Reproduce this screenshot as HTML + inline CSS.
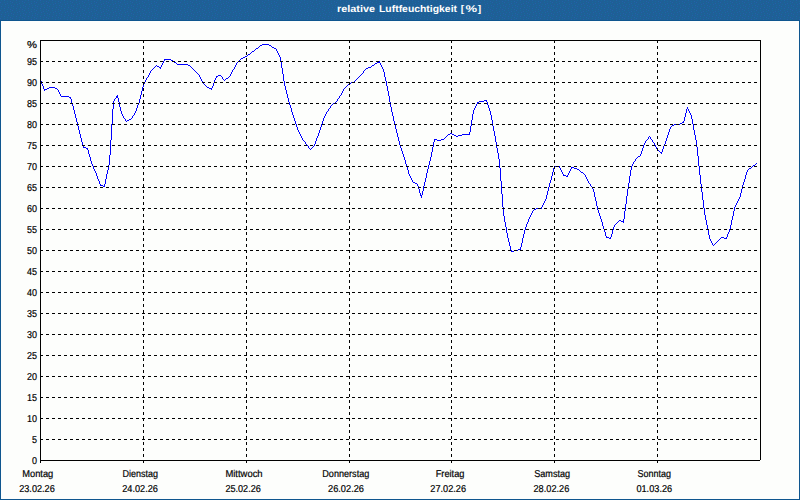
<!DOCTYPE html>
<html><head><meta charset="utf-8"><title>relative Luftfeuchtigkeit [%]</title>
<style>
html,body{margin:0;padding:0;background:#fdfefc;overflow:hidden;font-family:"Liberation Sans",sans-serif;}
svg{position:absolute;left:0;top:0}
</style></head><body>
<svg width="800" height="500" viewBox="0 0 800 500" style="display:block">
<defs><pattern id="dz" width="12" height="8" patternUnits="userSpaceOnUse"><rect width="12" height="8" fill="#1f5f96"/><rect x="1" y="0" width="1" height="1" fill="#166a9c"/><rect x="7" y="1" width="1" height="1" fill="#166a9c"/><rect x="4" y="2" width="1" height="1" fill="#166a9c"/><rect x="10" y="3" width="1" height="1" fill="#166a9c"/><rect x="2" y="4" width="1" height="1" fill="#166a9c"/><rect x="8" y="5" width="1" height="1" fill="#166a9c"/><rect x="5" y="6" width="1" height="1" fill="#166a9c"/><rect x="11" y="7" width="1" height="1" fill="#166a9c"/><rect x="4" y="0" width="1" height="1" fill="#2163aa"/><rect x="10" y="1" width="1" height="1" fill="#2163aa"/><rect x="0" y="2" width="1" height="1" fill="#2163aa"/><rect x="7" y="3" width="1" height="1" fill="#2163aa"/><rect x="5" y="4" width="1" height="1" fill="#2163aa"/><rect x="11" y="5" width="1" height="1" fill="#2163aa"/><rect x="1" y="6" width="1" height="1" fill="#2163aa"/><rect x="8" y="7" width="1" height="1" fill="#2163aa"/></pattern></defs>
<rect x="0" y="0" width="800" height="500" fill="#0f568f"/>
<rect x="1" y="21" width="798" height="478" fill="#fdfefc"/>
<rect x="0" y="0" width="800" height="20" fill="url(#dz)"/>
<path d="M40 79h1v2h-1zM41 81h1v3h-1zM42 84h1v2h-1zM43 86h1v3h-1zM44 89h1v2h-1zM45 89h1v1h-1zM46 89h1v1h-1zM47 88h1v1h-1zM48 88h1v1h-1zM49 87h1v1h-1zM50 87h1v1h-1zM51 87h1v1h-1zM52 87h1v1h-1zM53 87h1v1h-1zM54 87h1v1h-1zM55 88h1v1h-1zM56 88h1v1h-1zM57 89h1v1h-1zM58 90h1v2h-1zM59 92h1v2h-1zM60 94h1v2h-1zM61 96h1v1h-1zM62 96h1v1h-1zM63 96h1v1h-1zM64 96h1v1h-1zM65 96h1v1h-1zM66 96h1v1h-1zM67 96h1v1h-1zM68 96h1v1h-1zM69 97h1v1h-1zM70 97h1v2h-1zM71 99h1v4h-1zM72 103h1v3h-1zM73 106h1v4h-1zM74 110h1v4h-1zM75 114h1v4h-1zM76 118h1v4h-1zM77 122h1v4h-1zM78 126h1v4h-1zM79 130h1v4h-1zM80 134h1v4h-1zM81 138h1v4h-1zM82 142h1v4h-1zM83 146h1v2h-1zM84 147h1v1h-1zM85 147h1v1h-1zM86 148h1v1h-1zM87 148h1v2h-1zM88 150h1v4h-1zM89 154h1v3h-1zM90 157h1v4h-1zM91 161h1v3h-1zM92 164h1v2h-1zM93 166h1v3h-1zM94 169h1v2h-1zM95 171h1v2h-1zM96 173h1v3h-1zM97 176h1v3h-1zM98 179h1v2h-1zM99 181h1v3h-1zM100 184h1v2h-1zM101 185h1v1h-1zM102 185h1v1h-1zM103 186h1v1h-1zM104 184h1v3h-1zM105 179h1v5h-1zM106 174h1v5h-1zM107 170h1v4h-1zM108 165h1v5h-1zM109 155h1v10h-1zM110 140h1v15h-1zM111 124h1v16h-1zM112 109h1v15h-1zM113 101h1v8h-1zM114 99h1v2h-1zM115 98h1v1h-1zM116 96h1v2h-1zM117 95h1v3h-1zM118 98h1v4h-1zM119 102h1v5h-1zM120 107h1v4h-1zM121 111h1v3h-1zM122 114h1v2h-1zM123 116h1v2h-1zM124 118h1v1h-1zM125 119h1v2h-1zM126 121h1v1h-1zM127 120h1v1h-1zM128 120h1v1h-1zM129 119h1v1h-1zM130 119h1v1h-1zM131 118h1v1h-1zM132 116h1v2h-1zM133 115h1v1h-1zM134 113h1v2h-1zM135 111h1v2h-1zM136 108h1v3h-1zM137 105h1v3h-1zM138 103h1v2h-1zM139 99h1v4h-1zM140 95h1v4h-1zM141 91h1v4h-1zM142 87h1v4h-1zM143 84h1v3h-1zM144 82h1v2h-1zM145 80h1v2h-1zM146 78h1v2h-1zM147 77h1v1h-1zM148 75h1v2h-1zM149 73h1v2h-1zM150 71h1v2h-1zM151 70h1v1h-1zM152 69h1v1h-1zM153 68h1v1h-1zM154 67h1v1h-1zM155 66h1v1h-1zM156 65h1v1h-1zM157 66h1v1h-1zM158 66h1v1h-1zM159 67h1v1h-1zM160 67h1v2h-1zM161 65h1v2h-1zM162 63h1v2h-1zM163 61h1v2h-1zM164 59h1v2h-1zM165 59h1v1h-1zM166 59h1v1h-1zM167 59h1v1h-1zM168 59h1v1h-1zM169 59h1v1h-1zM170 59h1v1h-1zM171 60h1v1h-1zM172 60h1v1h-1zM173 61h1v1h-1zM174 62h1v1h-1zM175 62h1v1h-1zM176 63h1v1h-1zM177 64h1v1h-1zM178 64h1v1h-1zM179 64h1v1h-1zM180 64h1v1h-1zM181 64h1v1h-1zM182 64h1v1h-1zM183 64h1v1h-1zM184 64h1v1h-1zM185 64h1v1h-1zM186 64h1v1h-1zM187 64h1v1h-1zM188 65h1v1h-1zM189 65h1v1h-1zM190 66h1v1h-1zM191 67h1v1h-1zM192 68h1v1h-1zM193 69h1v1h-1zM194 70h1v1h-1zM195 71h1v1h-1zM196 72h1v1h-1zM197 73h1v1h-1zM198 74h1v1h-1zM199 75h1v2h-1zM200 77h1v2h-1zM201 79h1v2h-1zM202 81h1v2h-1zM203 83h1v1h-1zM204 84h1v1h-1zM205 85h1v1h-1zM206 86h1v1h-1zM207 87h1v1h-1zM208 87h1v1h-1zM209 88h1v1h-1zM210 88h1v1h-1zM211 88h1v2h-1zM212 86h1v2h-1zM213 83h1v3h-1zM214 80h1v3h-1zM215 78h1v2h-1zM216 76h1v2h-1zM217 76h1v1h-1zM218 75h1v1h-1zM219 75h1v1h-1zM220 75h1v1h-1zM221 76h1v1h-1zM222 77h1v2h-1zM223 79h1v1h-1zM224 80h1v1h-1zM225 79h1v1h-1zM226 78h1v1h-1zM227 78h1v1h-1zM228 77h1v1h-1zM229 76h1v1h-1zM230 74h1v2h-1zM231 72h1v2h-1zM232 70h1v2h-1zM233 69h1v1h-1zM234 67h1v2h-1zM235 65h1v2h-1zM236 63h1v2h-1zM237 62h1v1h-1zM238 61h1v1h-1zM239 60h1v1h-1zM240 59h1v1h-1zM241 58h1v1h-1zM242 58h1v1h-1zM243 57h1v1h-1zM244 57h1v1h-1zM245 56h1v1h-1zM246 56h1v1h-1zM247 55h1v1h-1zM248 54h1v1h-1zM249 54h1v1h-1zM250 53h1v1h-1zM251 52h1v1h-1zM252 51h1v1h-1zM253 51h1v1h-1zM254 50h1v1h-1zM255 49h1v1h-1zM256 48h1v1h-1zM257 48h1v1h-1zM258 47h1v1h-1zM259 46h1v1h-1zM260 45h1v1h-1zM261 45h1v1h-1zM262 44h1v1h-1zM263 44h1v1h-1zM264 44h1v1h-1zM265 44h1v1h-1zM266 44h1v1h-1zM267 44h1v1h-1zM268 44h1v1h-1zM269 45h1v1h-1zM270 45h1v1h-1zM271 46h1v1h-1zM272 47h1v1h-1zM273 47h1v1h-1zM274 48h1v1h-1zM275 48h1v1h-1zM276 49h1v2h-1zM277 51h1v2h-1zM278 53h1v2h-1zM279 55h1v2h-1zM280 57h1v4h-1zM281 61h1v7h-1zM282 68h1v6h-1zM283 74h1v7h-1zM284 81h1v5h-1zM285 86h1v4h-1zM286 90h1v4h-1zM287 94h1v4h-1zM288 98h1v4h-1zM289 102h1v3h-1zM290 105h1v3h-1zM291 108h1v4h-1zM292 112h1v3h-1zM293 115h1v3h-1zM294 118h1v3h-1zM295 121h1v3h-1zM296 124h1v3h-1zM297 127h1v3h-1zM298 130h1v2h-1zM299 132h1v2h-1zM300 134h1v2h-1zM301 136h1v2h-1zM302 138h1v2h-1zM303 140h1v1h-1zM304 141h1v1h-1zM305 142h1v2h-1zM306 144h1v1h-1zM307 145h1v1h-1zM308 146h1v2h-1zM309 148h1v1h-1zM310 149h1v1h-1zM311 148h1v1h-1zM312 147h1v1h-1zM313 146h1v1h-1zM314 144h1v2h-1zM315 141h1v3h-1zM316 138h1v3h-1zM317 136h1v2h-1zM318 133h1v3h-1zM319 130h1v3h-1zM320 127h1v3h-1zM321 124h1v3h-1zM322 121h1v3h-1zM323 118h1v3h-1zM324 116h1v2h-1zM325 114h1v2h-1zM326 112h1v2h-1zM327 111h1v1h-1zM328 109h1v2h-1zM329 108h1v1h-1zM330 106h1v2h-1zM331 105h1v1h-1zM332 104h1v1h-1zM333 103h1v1h-1zM334 103h1v1h-1zM335 102h1v1h-1zM336 101h1v1h-1zM337 99h1v2h-1zM338 98h1v1h-1zM339 96h1v2h-1zM340 95h1v1h-1zM341 93h1v2h-1zM342 91h1v2h-1zM343 89h1v2h-1zM344 88h1v1h-1zM345 87h1v1h-1zM346 86h1v1h-1zM347 85h1v1h-1zM348 84h1v1h-1zM349 83h1v1h-1zM350 83h1v1h-1zM351 82h1v1h-1zM352 82h1v1h-1zM353 82h1v1h-1zM354 81h1v1h-1zM355 80h1v1h-1zM356 79h1v1h-1zM357 78h1v1h-1zM358 77h1v1h-1zM359 76h1v1h-1zM360 75h1v1h-1zM361 74h1v1h-1zM362 73h1v1h-1zM363 71h1v2h-1zM364 70h1v1h-1zM365 69h1v1h-1zM366 68h1v1h-1zM367 68h1v1h-1zM368 67h1v1h-1zM369 67h1v1h-1zM370 67h1v1h-1zM371 66h1v1h-1zM372 65h1v1h-1zM373 65h1v1h-1zM374 64h1v1h-1zM375 63h1v1h-1zM376 63h1v1h-1zM377 62h1v1h-1zM378 62h1v1h-1zM379 61h1v2h-1zM380 63h1v2h-1zM381 65h1v2h-1zM382 67h1v2h-1zM383 69h1v3h-1zM384 72h1v5h-1zM385 77h1v4h-1zM386 81h1v5h-1zM387 86h1v5h-1zM388 91h1v5h-1zM389 96h1v6h-1zM390 102h1v5h-1zM391 107h1v5h-1zM392 112h1v4h-1zM393 116h1v5h-1zM394 121h1v4h-1zM395 125h1v4h-1zM396 129h1v4h-1zM397 133h1v4h-1zM398 137h1v4h-1zM399 141h1v4h-1zM400 145h1v3h-1zM401 148h1v3h-1zM402 151h1v3h-1zM403 154h1v3h-1zM404 157h1v3h-1zM405 160h1v4h-1zM406 164h1v3h-1zM407 167h1v3h-1zM408 170h1v4h-1zM409 174h1v2h-1zM410 176h1v2h-1zM411 178h1v2h-1zM412 180h1v2h-1zM413 182h1v1h-1zM414 182h1v1h-1zM415 183h1v1h-1zM416 183h1v1h-1zM417 184h1v2h-1zM418 186h1v3h-1zM419 189h1v4h-1zM420 193h1v3h-1zM421 195h1v3h-1zM422 191h1v4h-1zM423 186h1v5h-1zM424 182h1v4h-1zM425 178h1v4h-1zM426 173h1v5h-1zM427 169h1v4h-1zM428 165h1v4h-1zM429 161h1v4h-1zM430 157h1v4h-1zM431 152h1v5h-1zM432 147h1v5h-1zM433 142h1v5h-1zM434 139h1v3h-1zM435 139h1v1h-1zM436 139h1v1h-1zM437 140h1v1h-1zM438 140h1v1h-1zM439 140h1v1h-1zM440 140h1v1h-1zM441 139h1v1h-1zM442 139h1v1h-1zM443 139h1v1h-1zM444 138h1v1h-1zM445 137h1v1h-1zM446 136h1v1h-1zM447 135h1v1h-1zM448 134h1v1h-1zM449 134h1v1h-1zM450 133h1v1h-1zM451 133h1v1h-1zM452 134h1v1h-1zM453 134h1v1h-1zM454 135h1v1h-1zM455 135h1v1h-1zM456 136h1v1h-1zM457 136h1v1h-1zM458 135h1v1h-1zM459 135h1v1h-1zM460 135h1v1h-1zM461 135h1v1h-1zM462 134h1v1h-1zM463 134h1v1h-1zM464 134h1v1h-1zM465 134h1v1h-1zM466 134h1v1h-1zM467 134h1v1h-1zM468 134h1v1h-1zM469 132h1v3h-1zM470 126h1v6h-1zM471 120h1v6h-1zM472 114h1v6h-1zM473 110h1v4h-1zM474 108h1v2h-1zM475 106h1v2h-1zM476 104h1v2h-1zM477 102h1v2h-1zM478 102h1v1h-1zM479 101h1v1h-1zM480 101h1v1h-1zM481 101h1v1h-1zM482 101h1v1h-1zM483 101h1v1h-1zM484 100h1v1h-1zM485 100h1v1h-1zM486 100h1v2h-1zM487 102h1v3h-1zM488 105h1v3h-1zM489 108h1v3h-1zM490 111h1v4h-1zM491 115h1v5h-1zM492 120h1v6h-1zM493 126h1v5h-1zM494 131h1v5h-1zM495 136h1v6h-1zM496 142h1v6h-1zM497 148h1v5h-1zM498 153h1v6h-1zM499 159h1v9h-1zM500 168h1v13h-1zM501 181h1v13h-1zM502 194h1v13h-1zM503 207h1v9h-1zM504 216h1v6h-1zM505 222h1v5h-1zM506 227h1v6h-1zM507 233h1v5h-1zM508 238h1v4h-1zM509 242h1v4h-1zM510 246h1v4h-1zM511 250h1v2h-1zM512 251h1v1h-1zM513 251h1v1h-1zM514 250h1v1h-1zM515 250h1v1h-1zM516 250h1v1h-1zM517 250h1v1h-1zM518 249h1v1h-1zM519 249h1v1h-1zM520 247h1v3h-1zM521 243h1v4h-1zM522 238h1v5h-1zM523 234h1v4h-1zM524 230h1v4h-1zM525 227h1v3h-1zM526 224h1v3h-1zM527 222h1v2h-1zM528 219h1v3h-1zM529 217h1v2h-1zM530 215h1v2h-1zM531 213h1v2h-1zM532 211h1v2h-1zM533 210h1v1h-1zM534 209h1v1h-1zM535 209h1v1h-1zM536 208h1v1h-1zM537 208h1v1h-1zM538 208h1v1h-1zM539 208h1v1h-1zM540 208h1v1h-1zM541 207h1v2h-1zM542 205h1v2h-1zM543 203h1v2h-1zM544 201h1v2h-1zM545 199h1v2h-1zM546 195h1v4h-1zM547 191h1v4h-1zM548 187h1v4h-1zM549 183h1v4h-1zM550 180h1v3h-1zM551 176h1v4h-1zM552 172h1v4h-1zM553 168h1v4h-1zM554 166h1v2h-1zM555 166h1v1h-1zM556 166h1v1h-1zM557 166h1v1h-1zM558 166h1v1h-1zM559 166h1v2h-1zM560 168h1v2h-1zM561 170h1v2h-1zM562 172h1v2h-1zM563 174h1v2h-1zM564 175h1v1h-1zM565 175h1v1h-1zM566 176h1v1h-1zM567 175h1v2h-1zM568 173h1v2h-1zM569 171h1v2h-1zM570 169h1v2h-1zM571 167h1v2h-1zM572 167h1v1h-1zM573 167h1v1h-1zM574 168h1v1h-1zM575 168h1v1h-1zM576 168h1v1h-1zM577 169h1v1h-1zM578 169h1v1h-1zM579 170h1v1h-1zM580 171h1v1h-1zM581 172h1v1h-1zM582 172h1v1h-1zM583 173h1v1h-1zM584 174h1v1h-1zM585 175h1v2h-1zM586 177h1v2h-1zM587 179h1v2h-1zM588 181h1v2h-1zM589 183h1v1h-1zM590 184h1v2h-1zM591 186h1v1h-1zM592 187h1v2h-1zM593 189h1v3h-1zM594 192h1v5h-1zM595 197h1v4h-1zM596 201h1v5h-1zM597 206h1v4h-1zM598 210h1v3h-1zM599 213h1v3h-1zM600 216h1v3h-1zM601 219h1v3h-1zM602 222h1v4h-1zM603 226h1v3h-1zM604 229h1v3h-1zM605 232h1v4h-1zM606 236h1v2h-1zM607 237h1v1h-1zM608 237h1v1h-1zM609 238h1v1h-1zM610 237h1v2h-1zM611 234h1v3h-1zM612 230h1v4h-1zM613 227h1v3h-1zM614 225h1v2h-1zM615 224h1v1h-1zM616 223h1v1h-1zM617 222h1v1h-1zM618 221h1v1h-1zM619 220h1v1h-1zM620 220h1v1h-1zM621 221h1v1h-1zM622 221h1v1h-1zM623 219h1v4h-1zM624 211h1v8h-1zM625 204h1v7h-1zM626 196h1v8h-1zM627 189h1v7h-1zM628 183h1v6h-1zM629 176h1v7h-1zM630 170h1v6h-1zM631 166h1v4h-1zM632 164h1v2h-1zM633 162h1v2h-1zM634 161h1v1h-1zM635 159h1v2h-1zM636 158h1v1h-1zM637 157h1v1h-1zM638 156h1v1h-1zM639 156h1v1h-1zM640 154h1v2h-1zM641 151h1v3h-1zM642 148h1v3h-1zM643 145h1v3h-1zM644 143h1v2h-1zM645 141h1v2h-1zM646 140h1v1h-1zM647 139h1v1h-1zM648 137h1v2h-1zM649 136h1v1h-1zM650 137h1v2h-1zM651 139h1v1h-1zM652 140h1v2h-1zM653 142h1v1h-1zM654 143h1v2h-1zM655 145h1v2h-1zM656 147h1v2h-1zM657 149h1v1h-1zM658 150h1v1h-1zM659 151h1v1h-1zM660 152h1v1h-1zM661 152h1v2h-1zM662 149h1v3h-1zM663 146h1v3h-1zM664 144h1v2h-1zM665 141h1v3h-1zM666 138h1v3h-1zM667 135h1v3h-1zM668 132h1v3h-1zM669 129h1v3h-1zM670 127h1v2h-1zM671 126h1v1h-1zM672 125h1v1h-1zM673 125h1v1h-1zM674 124h1v1h-1zM675 124h1v1h-1zM676 124h1v1h-1zM677 124h1v1h-1zM678 124h1v1h-1zM679 124h1v1h-1zM680 123h1v1h-1zM681 123h1v1h-1zM682 122h1v1h-1zM683 121h1v2h-1zM684 117h1v4h-1zM685 113h1v4h-1zM686 109h1v4h-1zM687 107h1v2h-1zM688 109h1v2h-1zM689 111h1v2h-1zM690 113h1v2h-1zM691 115h1v4h-1zM692 119h1v5h-1zM693 124h1v6h-1zM694 130h1v5h-1zM695 135h1v5h-1zM696 140h1v7h-1zM697 147h1v9h-1zM698 156h1v10h-1zM699 166h1v9h-1zM700 175h1v9h-1zM701 184h1v8h-1zM702 192h1v8h-1zM703 200h1v8h-1zM704 208h1v7h-1zM705 215h1v5h-1zM706 220h1v5h-1zM707 225h1v5h-1zM708 230h1v5h-1zM709 235h1v4h-1zM710 239h1v2h-1zM711 241h1v2h-1zM712 243h1v2h-1zM713 245h1v1h-1zM714 244h1v1h-1zM715 243h1v1h-1zM716 242h1v1h-1zM717 241h1v1h-1zM718 240h1v1h-1zM719 239h1v1h-1zM720 238h1v1h-1zM721 237h1v1h-1zM722 237h1v1h-1zM723 237h1v1h-1zM724 238h1v1h-1zM725 238h1v1h-1zM726 237h1v2h-1zM727 234h1v3h-1zM728 232h1v2h-1zM729 229h1v3h-1zM730 225h1v4h-1zM731 220h1v5h-1zM732 216h1v4h-1zM733 211h1v5h-1zM734 207h1v4h-1zM735 205h1v2h-1zM736 203h1v2h-1zM737 201h1v2h-1zM738 199h1v2h-1zM739 197h1v2h-1zM740 193h1v4h-1zM741 189h1v4h-1zM742 185h1v4h-1zM743 182h1v3h-1zM744 179h1v3h-1zM745 175h1v4h-1zM746 172h1v3h-1zM747 170h1v2h-1zM748 169h1v1h-1zM749 168h1v1h-1zM750 168h1v1h-1zM751 167h1v1h-1zM752 166h1v1h-1zM753 165h1v1h-1zM754 165h1v1h-1zM755 164h1v1h-1zM756 163h1v1h-1z" fill="#0000ff" shape-rendering="crispEdges"/>
<g shape-rendering="crispEdges" stroke="#000" stroke-width="1" fill="none">
<line x1="40" y1="439.5" x2="760" y2="439.5" stroke-dasharray="3 3"/>
<line x1="40" y1="418.5" x2="760" y2="418.5" stroke-dasharray="3 3"/>
<line x1="40" y1="397.5" x2="760" y2="397.5" stroke-dasharray="3 3"/>
<line x1="40" y1="376.5" x2="760" y2="376.5" stroke-dasharray="3 3"/>
<line x1="40" y1="355.5" x2="760" y2="355.5" stroke-dasharray="3 3"/>
<line x1="40" y1="334.5" x2="760" y2="334.5" stroke-dasharray="3 3"/>
<line x1="40" y1="313.5" x2="760" y2="313.5" stroke-dasharray="3 3"/>
<line x1="40" y1="292.5" x2="760" y2="292.5" stroke-dasharray="3 3"/>
<line x1="40" y1="271.5" x2="760" y2="271.5" stroke-dasharray="3 3"/>
<line x1="40" y1="250.5" x2="760" y2="250.5" stroke-dasharray="3 3"/>
<line x1="40" y1="229.5" x2="760" y2="229.5" stroke-dasharray="3 3"/>
<line x1="40" y1="208.5" x2="760" y2="208.5" stroke-dasharray="3 3"/>
<line x1="40" y1="187.5" x2="760" y2="187.5" stroke-dasharray="3 3"/>
<line x1="40" y1="166.5" x2="760" y2="166.5" stroke-dasharray="3 3"/>
<line x1="40" y1="145.5" x2="760" y2="145.5" stroke-dasharray="3 3"/>
<line x1="40" y1="124.5" x2="760" y2="124.5" stroke-dasharray="3 3"/>
<line x1="40" y1="103.5" x2="760" y2="103.5" stroke-dasharray="3 3"/>
<line x1="40" y1="82.5" x2="760" y2="82.5" stroke-dasharray="3 3"/>
<line x1="40" y1="61.5" x2="760" y2="61.5" stroke-dasharray="3 3"/>
<line x1="143.5" y1="40" x2="143.5" y2="463" stroke-dasharray="3 3"/>
<line x1="246.5" y1="40" x2="246.5" y2="463" stroke-dasharray="3 3"/>
<line x1="349.5" y1="40" x2="349.5" y2="463" stroke-dasharray="3 3"/>
<line x1="451.5" y1="40" x2="451.5" y2="463" stroke-dasharray="3 3"/>
<line x1="554.5" y1="40" x2="554.5" y2="463" stroke-dasharray="3 3"/>
<line x1="657.5" y1="40" x2="657.5" y2="463" stroke-dasharray="3 3"/>
<line x1="40" y1="40.5" x2="761" y2="40.5"/>
<line x1="40" y1="460.5" x2="760" y2="460.5"/>
<line x1="40.5" y1="40" x2="40.5" y2="463"/>
<line x1="760.5" y1="40" x2="760.5" y2="460"/>
</g>
<g font-family="'Liberation Sans', sans-serif" font-size="10px" fill="#000" stroke="#000" stroke-width="0.2" text-rendering="geometricPrecision">
<text x="27" y="48" textLength="10" lengthAdjust="spacingAndGlyphs">%</text>
<text x="32" y="464" textLength="5" lengthAdjust="spacingAndGlyphs">0</text>
<text x="32" y="443" textLength="5" lengthAdjust="spacingAndGlyphs">5</text>
<text x="27" y="422" textLength="10" lengthAdjust="spacingAndGlyphs">10</text>
<text x="27" y="401" textLength="10" lengthAdjust="spacingAndGlyphs">15</text>
<text x="27" y="380" textLength="10" lengthAdjust="spacingAndGlyphs">20</text>
<text x="27" y="359" textLength="10" lengthAdjust="spacingAndGlyphs">25</text>
<text x="27" y="338" textLength="10" lengthAdjust="spacingAndGlyphs">30</text>
<text x="27" y="317" textLength="10" lengthAdjust="spacingAndGlyphs">35</text>
<text x="27" y="296" textLength="10" lengthAdjust="spacingAndGlyphs">40</text>
<text x="27" y="275" textLength="10" lengthAdjust="spacingAndGlyphs">45</text>
<text x="27" y="254" textLength="10" lengthAdjust="spacingAndGlyphs">50</text>
<text x="27" y="233" textLength="10" lengthAdjust="spacingAndGlyphs">55</text>
<text x="27" y="212" textLength="10" lengthAdjust="spacingAndGlyphs">60</text>
<text x="27" y="191" textLength="10" lengthAdjust="spacingAndGlyphs">65</text>
<text x="27" y="170" textLength="10" lengthAdjust="spacingAndGlyphs">70</text>
<text x="27" y="149" textLength="10" lengthAdjust="spacingAndGlyphs">75</text>
<text x="27" y="128" textLength="10" lengthAdjust="spacingAndGlyphs">80</text>
<text x="27" y="107" textLength="10" lengthAdjust="spacingAndGlyphs">85</text>
<text x="27" y="86" textLength="10" lengthAdjust="spacingAndGlyphs">90</text>
<text x="27" y="65" textLength="10" lengthAdjust="spacingAndGlyphs">95</text>
<text x="22.3" y="477" textLength="31" lengthAdjust="spacingAndGlyphs">Montag</text>
<text x="19.2" y="492" textLength="35.6" lengthAdjust="spacingAndGlyphs">23.02.26</text>
<text x="122.5" y="477" textLength="35.5" lengthAdjust="spacingAndGlyphs">Dienstag</text>
<text x="122.2" y="492" textLength="35.8" lengthAdjust="spacingAndGlyphs">24.02.26</text>
<text x="225.4" y="477" textLength="37.2" lengthAdjust="spacingAndGlyphs">Mittwoch</text>
<text x="225.4" y="492" textLength="35.4" lengthAdjust="spacingAndGlyphs">25.02.26</text>
<text x="322.3" y="477" textLength="47" lengthAdjust="spacingAndGlyphs">Donnerstag</text>
<text x="328" y="492" textLength="36" lengthAdjust="spacingAndGlyphs">26.02.26</text>
<text x="435.7" y="477" textLength="28.7" lengthAdjust="spacingAndGlyphs">Freitag</text>
<text x="430.3" y="492" textLength="35.7" lengthAdjust="spacingAndGlyphs">27.02.26</text>
<text x="534.2" y="477" textLength="36" lengthAdjust="spacingAndGlyphs">Samstag</text>
<text x="533.5" y="492" textLength="35.8" lengthAdjust="spacingAndGlyphs">28.02.26</text>
<text x="637.4" y="477" textLength="33.5" lengthAdjust="spacingAndGlyphs">Sonntag</text>
<text x="636.4" y="492" textLength="35.8" lengthAdjust="spacingAndGlyphs">01.03.26</text>
</g>
<g font-family="'Liberation Sans', sans-serif" font-weight="bold" font-size="9.8px" fill="#ffffff" text-rendering="geometricPrecision">
<text x="337" y="12" textLength="38" lengthAdjust="spacingAndGlyphs">relative</text>
<text x="379" y="12" textLength="78" lengthAdjust="spacingAndGlyphs">Luftfeuchtigkeit</text>
<text x="460.7" y="12" textLength="3.4" lengthAdjust="spacingAndGlyphs">[</text>
<text x="465.4" y="12" textLength="11.6" lengthAdjust="spacingAndGlyphs">%</text>
<text x="477.8" y="12" textLength="3.4" lengthAdjust="spacingAndGlyphs">]</text>
</g>
</svg>
</body></html>
